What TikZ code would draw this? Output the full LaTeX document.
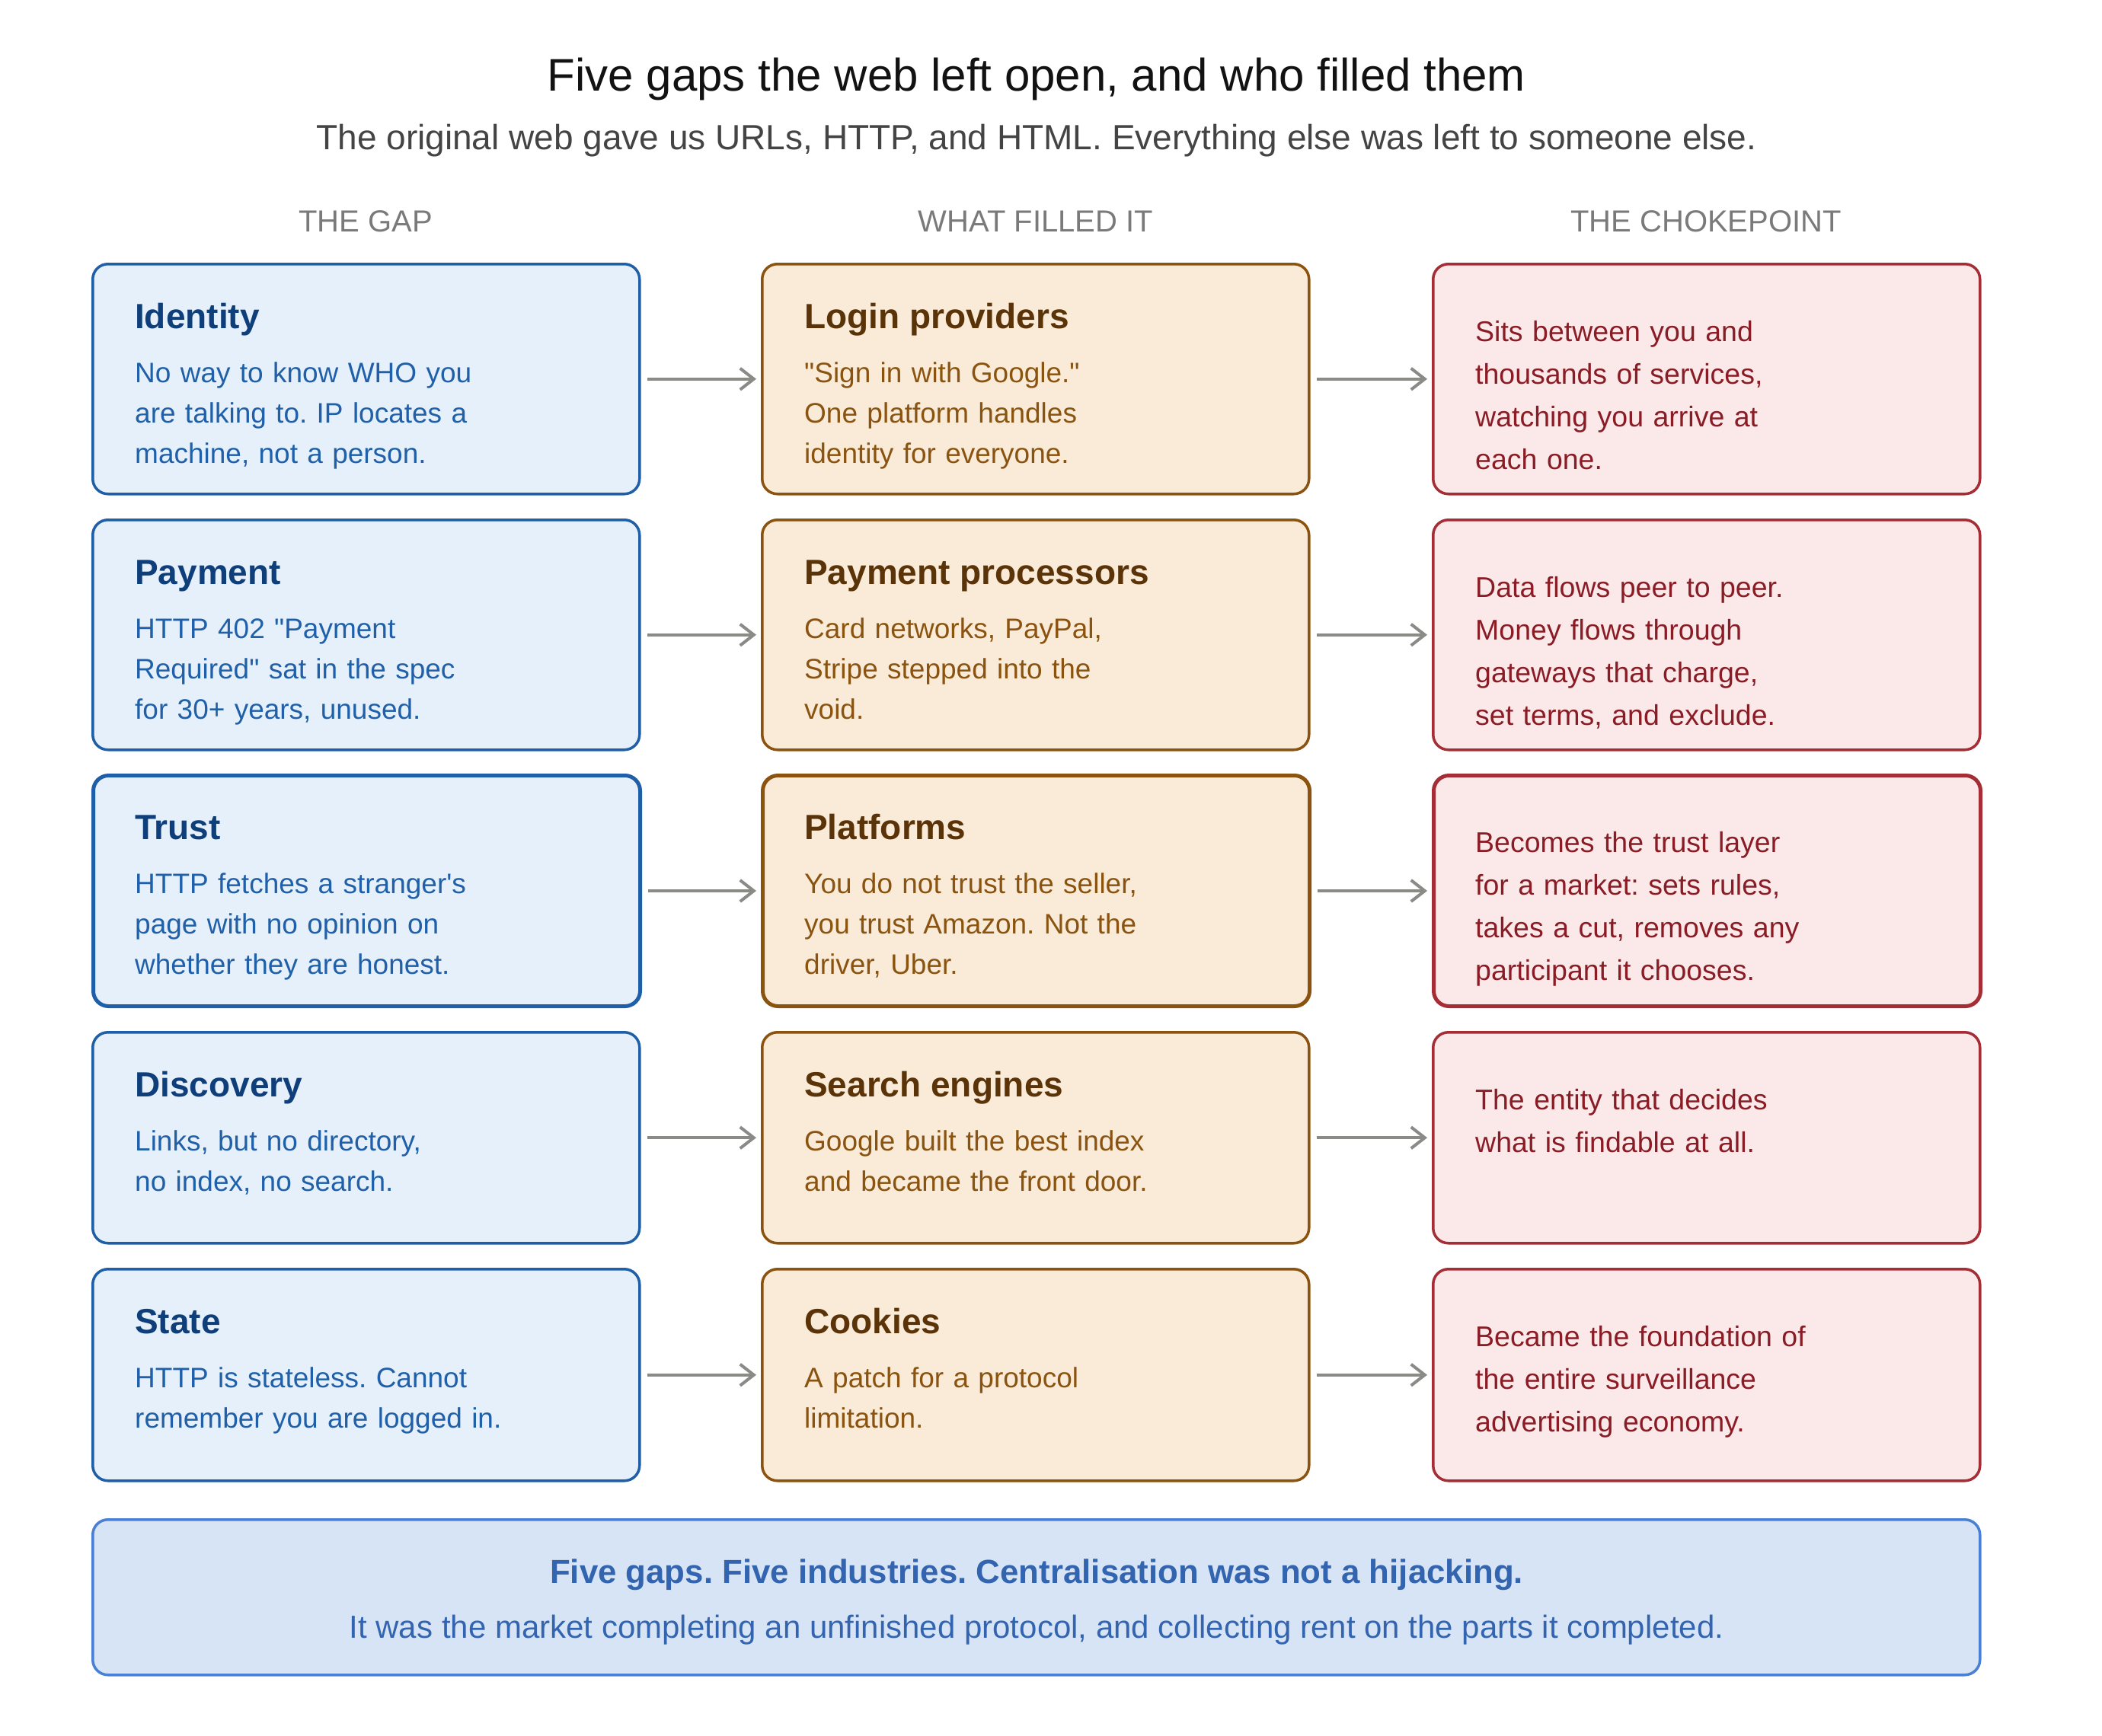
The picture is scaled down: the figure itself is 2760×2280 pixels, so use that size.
\documentclass[tikz,border=0pt]{standalone}
\usepackage{fontspec}
\setmainfont{Liberation Sans}[Ligatures=TeXOff]
\usetikzlibrary{arrows.meta,calc}
\frenchspacing

\definecolor{gapbg}{HTML}{E6F0FB}
\definecolor{gapline}{HTML}{1F5FA8}
\definecolor{gaptitle}{HTML}{0F3F7A}
\definecolor{gaptext}{HTML}{1F60A8}
\definecolor{fillbg}{HTML}{FAEBD8}
\definecolor{fillline}{HTML}{8A5410}
\definecolor{filltitle}{HTML}{5A3408}
\definecolor{filltext}{HTML}{8A5410}
\definecolor{chokebg}{HTML}{FBE9EA}
\definecolor{chokeline}{HTML}{A52D35}
\definecolor{choketext}{HTML}{8A1C25}
\definecolor{notebg}{HTML}{D7E4F5}
\definecolor{noteline}{HTML}{4A80D4}
\definecolor{notetext}{HTML}{3264B0}
\definecolor{arrowgray}{HTML}{8A8A86}
\definecolor{headgray}{HTML}{7A7A7A}
\definecolor{subgray}{HTML}{444444}

\begin{document}
\begin{tikzpicture}[x=1pt,y=-1pt,
  box/.style={rectangle,rounded corners=20pt,line width=3.5pt,minimum width=718pt,anchor=north west,inner sep=0pt},
  gapbox/.style={box,draw=gapline,fill=gapbg},
  fillbox/.style={box,draw=fillline,fill=fillbg},
  chokebox/.style={box,draw=chokeline,fill=chokebg},
  head/.style={anchor=base west,inner sep=0pt,font=\fontsize{46}{55}\selectfont\bfseries},
  body/.style={anchor=base west,inner sep=0pt,text width=640pt,align=left,font=\fontsize{37}{53}\selectfont},
  side/.style={body,text=choketext,font=\fontsize{37.5}{56}\selectfont},
  colhead/.style={anchor=base,inner sep=0pt,text=headgray,font=\fontsize{40}{48}\selectfont},
  flow/.style={draw=arrowgray,line width=4pt,-{Straight Barb[length=18pt,width=28pt]},shorten <=8pt,shorten >=6pt}]
\fill[white] (0,0) rectangle (2760,2280);
\useasboundingbox (0,0) rectangle (2760,2280);

% title and column heads
\node[anchor=base,inner sep=0pt,text=black!93,font=\fontsize{60}{72}\selectfont] (title) at (1361,120) {Five gaps the web left open, and who filled them};
\node[anchor=base,inner sep=0pt,text=subgray,font=\fontsize{46}{55}\selectfont] (subtitle) at (1361,196) {The original web gave us URLs, HTTP, and HTML. Everything else was left to someone else.};
\node[colhead] (hgap) at (480,304) {THE GAP};
\node[colhead] (hfill) at (1360,304) {WHAT FILLED IT};
\node[colhead] (hchoke) at (2240,304) {THE CHOKEPOINT};

% row 1
\node[gapbox,minimum height=302pt] (gap1) at (120,345) {};
\node[fillbox,minimum height=302pt] (fill1) at (999,345) {};
\node[chokebox,minimum height=302pt] (choke1) at (1880,345) {};
\node[head,text=gaptitle] (gapT1) at ($(gap1.north west)+(57,86)$) {Identity};
\node[body,text=gaptext] (gapB1) at ($(gap1.north west)+(57,157)$) {No way to know WHO you\\are talking to. IP locates a\\machine, not a person.};
\node[head,text=filltitle] (fillT1) at ($(fill1.north west)+(57,86)$) {Login providers};
\node[body,text=filltext] (fillB1) at ($(fill1.north west)+(57,157)$) {"Sign in with Google."\\One platform handles\\identity for everyone.};
\node[side] (chokeB1) at ($(choke1.north west)+(57,103)$) {Sits between you and\\thousands of services,\\watching you arrive at\\each one.};
\draw[flow] (gap1.east) -- (fill1.west);
\draw[flow] (fill1.east) -- (choke1.west);

% row 2
\node[gapbox,minimum height=302pt] (gap2) at (120,681) {};
\node[fillbox,minimum height=302pt] (fill2) at (999,681) {};
\node[chokebox,minimum height=302pt] (choke2) at (1880,681) {};
\node[head,text=gaptitle] (gapT2) at ($(gap2.north west)+(57,86)$) {Payment};
\node[body,text=gaptext] (gapB2) at ($(gap2.north west)+(57,157)$) {HTTP 402 "Payment\\Required" sat in the spec\\for 30+ years, unused.};
\node[head,text=filltitle] (fillT2) at ($(fill2.north west)+(57,86)$) {Payment processors};
\node[body,text=filltext] (fillB2) at ($(fill2.north west)+(57,157)$) {Card networks, PayPal,\\Stripe stepped into the\\void.};
\node[side] (chokeB2) at ($(choke2.north west)+(57,103)$) {Data flows peer to peer.\\Money flows through\\gateways that charge,\\set terms, and exclude.};
\draw[flow] (gap2.east) -- (fill2.west);
\draw[flow] (fill2.east) -- (choke2.west);

% row 3 (heavier border)
\node[gapbox,line width=5pt,minimum height=303pt] (gap3) at (120,1016) {};
\node[fillbox,line width=5pt,minimum height=303pt] (fill3) at (999,1016) {};
\node[chokebox,line width=5pt,minimum height=303pt] (choke3) at (1880,1016) {};
\node[head,text=gaptitle] (gapT3) at ($(gap3.north west)+(57,86)$) {Trust};
\node[body,text=gaptext] (gapB3) at ($(gap3.north west)+(57,157)$) {HTTP fetches a stranger's\\page with no opinion on\\whether they are honest.};
\node[head,text=filltitle] (fillT3) at ($(fill3.north west)+(57,86)$) {Platforms};
\node[body,text=filltext] (fillB3) at ($(fill3.north west)+(57,157)$) {You do not trust the seller,\\you trust Amazon. Not the\\driver, Uber.};
\node[side] (chokeB3) at ($(choke3.north west)+(57,103)$) {Becomes the trust layer\\for a market: sets rules,\\takes a cut, removes any\\participant it chooses.};
\draw[flow] (gap3.east) -- (fill3.west);
\draw[flow] (fill3.east) -- (choke3.west);

% row 4
\node[gapbox,minimum height=277pt] (gap4) at (120,1354) {};
\node[fillbox,minimum height=277pt] (fill4) at (999,1354) {};
\node[chokebox,minimum height=277pt] (choke4) at (1880,1354) {};
\node[head,text=gaptitle] (gapT4) at ($(gap4.north west)+(57,86)$) {Discovery};
\node[body,text=gaptext] (gapB4) at ($(gap4.north west)+(57,157)$) {Links, but no directory,\\no index, no search.};
\node[head,text=filltitle] (fillT4) at ($(fill4.north west)+(57,86)$) {Search engines};
\node[body,text=filltext] (fillB4) at ($(fill4.north west)+(57,157)$) {Google built the best index\\and became the front door.};
\node[side] (chokeB4) at ($(choke4.north west)+(57,103)$) {The entity that decides\\what is findable at all.};
\draw[flow] (gap4.east) -- (fill4.west);
\draw[flow] (fill4.east) -- (choke4.west);

% row 5
\node[gapbox,minimum height=278pt] (gap5) at (120,1665) {};
\node[fillbox,minimum height=278pt] (fill5) at (999,1665) {};
\node[chokebox,minimum height=278pt] (choke5) at (1880,1665) {};
\node[head,text=gaptitle] (gapT5) at ($(gap5.north west)+(57,86)$) {State};
\node[body,text=gaptext] (gapB5) at ($(gap5.north west)+(57,157)$) {HTTP is stateless. Cannot\\remember you are logged in.};
\node[head,text=filltitle] (fillT5) at ($(fill5.north west)+(57,86)$) {Cookies};
\node[body,text=filltext] (fillB5) at ($(fill5.north west)+(57,157)$) {A patch for a protocol\\limitation.};
\node[side] (chokeB5) at ($(choke5.north west)+(57,103)$) {Became the foundation of\\the entire surveillance\\advertising economy.};
\draw[flow] (gap5.east) -- (fill5.west);
\draw[flow] (fill5.east) -- (choke5.west);

% summary
\node[box,draw=noteline,fill=notebg,minimum width=2478pt,minimum height=204pt] (note) at (120,1994) {};
\node[anchor=base,inner sep=0pt,text=notetext,font=\fontsize{43.8}{53}\selectfont\bfseries] (noteT) at (1361,2079) {Five gaps. Five industries. Centralisation was not a hijacking.};
\node[anchor=base,inner sep=0pt,text=notetext,font=\fontsize{42}{50}\selectfont] (noteB) at (1361,2151) {It was the market completing an unfinished protocol, and collecting rent on the parts it completed.};
\end{tikzpicture}
\end{document}
